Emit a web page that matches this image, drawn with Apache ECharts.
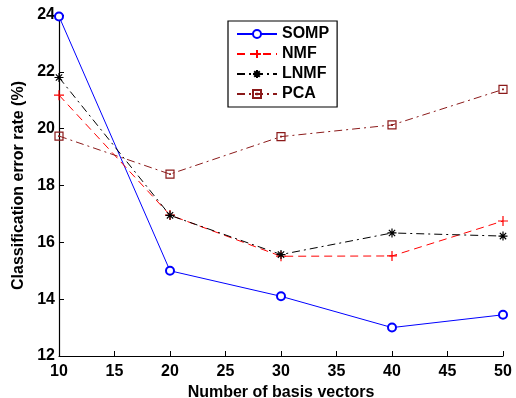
<!DOCTYPE html>
<html><head><meta charset="utf-8">
<script src="https://cdn.jsdelivr.net/npm/echarts@6/dist/echarts.min.js"></script>
<style>html,body{margin:0;padding:0;background:#fff}#c{width:516px;height:398px}</style>
</head><body><div id="c"></div>
<script>
const xValues = [10, 20, 30, 40, 50];
const somp = [23.95, 15.0, 14.1, 13.0, 13.45];
const nmf  = [21.18, 16.96, 15.51, 15.52, 16.75];
const lnmf = [21.8, 16.95, 15.57, 16.33, 16.22];
const pca  = [19.74, 18.4, 19.72, 20.13, 21.38];
const seriesNames = ['SOMP', 'NMF', 'LNMF', 'PCA'];

const F = '"Liberation Sans", Arial, Helvetica, sans-serif';
const plusPath = 'path://M0,5L10,5M5,0L5,10';
const starPath = 'path://M5,0L5,10M0,5L10,5M1.5,1.5L8.5,8.5M8.5,1.5L1.5,8.5';
const squarePath = 'path://M0,0L10,0L10,10L0,10ZM4.6,4.6L5.4,4.6L5.4,5.4L4.6,5.4Z';

function pairs(arr){ return xValues.map((x,i)=>[x,arr[i]]); }

const chart = echarts.init(document.getElementById('c'), null, {renderer:'canvas'});
chart.setOption({
  animation:false,
  grid:{left:59, right:13, top:15, bottom:42, containLabel:false, outerBoundsMode:'none'},
  legend:{
    orient:'vertical', left:228, top:21,
    data:seriesNames.map(n=>({name:n})),
    itemWidth:40, itemHeight:10, itemGap:4,
    padding:[5,8,5,8],
    borderColor:'#000', borderWidth:1.2,
    backgroundColor:'#fff',
    textStyle:{fontFamily:F, fontWeight:'bold', fontSize:16, color:'#000'}
  },
  xAxis:{
    type:'value', min:10, max:50, interval:5,
    name:'Number of basis vectors', nameLocation:'middle', nameGap:23,
    nameTextStyle:{fontFamily:F, fontWeight:'bold', fontSize:16, color:'#000'},
    axisLine:{lineStyle:{color:'#000', width:1.2}},
    axisTick:{inside:true, length:5, lineStyle:{color:'#000'}},
    axisLabel:{fontFamily:F, fontWeight:'bold', fontSize:16, color:'#000', margin:8},
    splitLine:{show:false}
  },
  yAxis:{
    type:'value', min:12, max:24, interval:2,
    name:'Classification error rate (%)', nameLocation:'middle', nameGap:30,
    nameTextStyle:{fontFamily:F, fontWeight:'bold', fontSize:16, color:'#000'},
    axisLine:{show:true, lineStyle:{color:'#000', width:1.2}},
    axisTick:{show:true, inside:true, length:5, lineStyle:{color:'#000'}},
    axisLabel:{fontFamily:F, fontWeight:'bold', fontSize:16, color:'#000', margin:4},
    splitLine:{show:false}
  },
  series:[
    {name:'SOMP', type:'line', data:pairs(somp), symbol:'emptyCircle', symbolSize:8,
     lineStyle:{color:'#0000ff', width:1, type:'solid'},
     itemStyle:{color:'#0000ff', borderColor:'#0000ff', borderWidth:1.1}},
    {name:'NMF', type:'line', data:pairs(nmf), symbol:plusPath, symbolSize:10,
     lineStyle:{color:'#ff0000', width:1, type:[8,5]},
     itemStyle:{color:'none', borderColor:'#ff0000', borderWidth:1.2}},
    {name:'LNMF', type:'line', data:pairs(lnmf), symbol:starPath, symbolSize:9,
     lineStyle:{color:'#000000', width:1, type:[8,4,2,4]},
     itemStyle:{color:'none', borderColor:'#000000', borderWidth:1.2}},
    {name:'PCA', type:'line', data:pairs(pca), symbol:squarePath, symbolSize:8,
     lineStyle:{color:'#8b1a1a', width:1, type:[8,4,2,4]},
     itemStyle:{color:'none', borderColor:'#8b1a1a', borderWidth:1.2}}
  ]
});
</script></body></html>
